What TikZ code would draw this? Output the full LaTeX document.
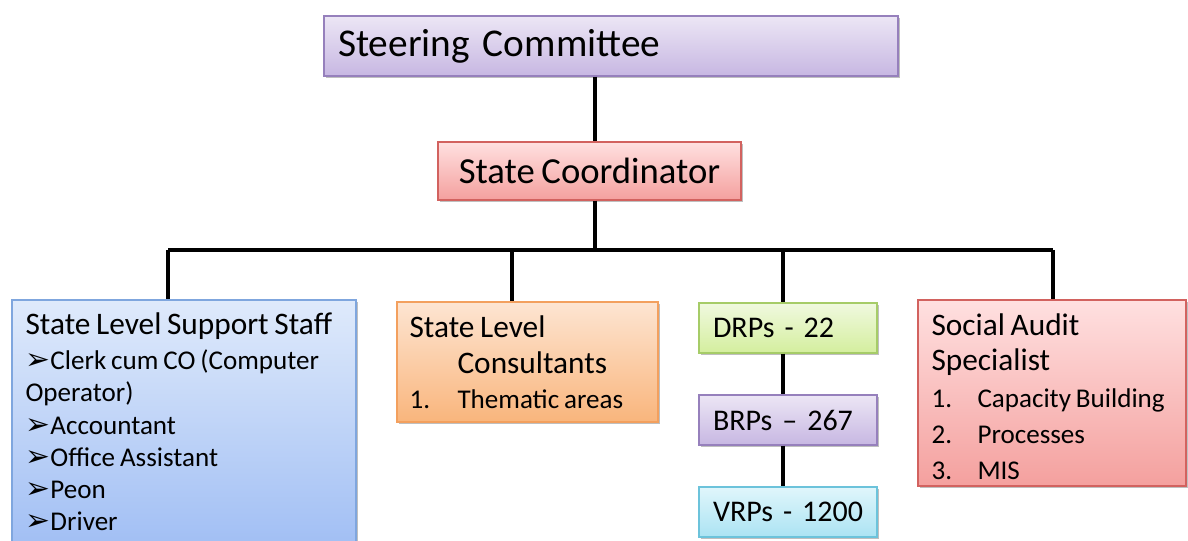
\documentclass[tikz,border=0pt]{standalone}
\usepackage{fontspec}
\setmainfont{Carlito}[WordSpace=0.8]
\newfontfamily\dingfont{DejaVu Sans}
\usetikzlibrary{calc, shadows}

\definecolor{purpleline}{HTML}{9680BC}
\definecolor{purpletop}{HTML}{ECE6F5}
\definecolor{purplebot}{HTML}{C7B7E2}
\definecolor{redline}{HTML}{D2625F}
\definecolor{redtop}{HTML}{FFE0E0}
\definecolor{redbot}{HTML}{F4A09E}
\definecolor{blueline}{HTML}{7FA6DE}
\definecolor{bluetop}{HTML}{DFEAFB}
\definecolor{bluebot}{HTML}{A0BEF4}
\definecolor{orangeline}{HTML}{F3A05E}
\definecolor{orangetop}{HTML}{FDE5D2}
\definecolor{orangebot}{HTML}{F9B57C}
\definecolor{greenline}{HTML}{A6CC68}
\definecolor{greentop}{HTML}{F0F9DF}
\definecolor{greenbot}{HTML}{D4EE9E}
\definecolor{cyanline}{HTML}{6CC3DB}
\definecolor{cyantop}{HTML}{E0F6FB}
\definecolor{cyanbot}{HTML}{ABE3F3}

\newcommand*\pointer{\scalebox{1.1}{\dingfont\char"27A2}}
\newcommand*\bigtext{\fontsize{29.5}{34}\selectfont}
\newcommand*\midtext{\fontsize{27.5}{32}\selectfont}
\newcommand*\smalltext{\fontsize{22.5}{24.75}\selectfont}
\newcommand*\headtext{\fontsize{23.5}{26}\selectfont}
\newcommand*\itemtext{\fontsize{20.3}{24.1}\selectfont}

\tikzset{
  box/.style={draw, line width=1.1pt, inner xsep=10.5pt, inner ysep=0pt,
    drop shadow={shadow xshift=1.2pt, shadow yshift=-1.6pt, opacity=0.25, fill=black}},
  purplebox/.style={box, draw=purpleline, top color=purpletop, bottom color=purplebot},
  redbox/.style={box, draw=redline, top color=redtop, bottom color=redbot},
  bluebox/.style={box, draw=blueline, top color=bluetop, bottom color=bluebot},
  orangebox/.style={box, draw=orangeline, top color=orangetop, bottom color=orangebot},
  greenbox/.style={box, draw=greenline, top color=greentop, bottom color=greenbot},
  cyanbox/.style={box, draw=cyanline, top color=cyantop, bottom color=cyanbot},
  small/.style={minimum width=133.5pt, minimum height=37.5pt, text width=112.5pt,
    align=left, font=\smalltext},
  txt/.style={inner sep=0pt, align=left, anchor=north west},
  link/.style={line width=2.8pt}
}

\begin{document}
\begin{tikzpicture}[x=0.75pt, y=-0.75pt]
        \useasboundingbox (0,0) rectangle (1188,541);
        \coordinate (hub) at (595,250);
        \coordinate (barL) at (168,250);
        \coordinate (barR) at (1053,250);
        \coordinate (dropB) at (512,250);
        \coordinate (dropC) at (783,250);

        % boxes
        \node[purplebox, minimum width=430.5pt, minimum height=45pt, text width=409.5pt,
          align=left, font=\bigtext] (steer) at (611,46) {Steering Committee};
        \node[redbox, minimum width=227.25pt, minimum height=43.5pt, align=center,
          font=\midtext] (coord) at (589.5,171) {State Coordinator};
        \node[bluebox, minimum width=258pt, minimum height=187.5pt] (staff) at (184,425) {};
        \node[orangebox, minimum width=195.75pt, minimum height=90pt] (consult) at (527.5,362) {};
        \node[greenbox, small] (drp) at (788,328) {\mbox{DRPs - 22}};
        \node[purplebox, small] (brp) at (788,420) {\mbox{BRPs -- 267}};
        \node[cyanbox, small] (vrp) at (788,512) {\mbox{VRPs - 1200}};
        \node[redbox, minimum width=201pt, minimum height=139.5pt] (social) at (1052,393) {};

        % box texts
        \node[txt, font=\itemtext] (stafftext) at ($(staff.north west)+(14,13)$)
          {{\headtext State Level Support Staff}\\[2.5pt]
           \pointer Clerk cum CO (Computer\\
           Operator)\\
           \pointer Accountant\\
           \pointer Office Assistant\\
           \pointer Peon\\
           \pointer Driver};
        \node[txt, font=\headtext] (consulttext) at ($(consult.north west)+(13,14)$)
          {State Level\\[1.5pt]
           \hspace*{36pt}Consultants\\
           {\itemtext\makebox[36pt][l]{1.}Thematic areas}};
        \node[txt, font=\headtext] (socialtext) at ($(social.north west)+(14,14)$)
          {Social Audit\\[0.5pt]
           Specialist\\[1.5pt]
           {\itemtext\makebox[34.5pt][l]{1.}Capacity Building}\\[1pt]
           {\itemtext\makebox[34.5pt][l]{2.}Processes}\\[1pt]
           {\itemtext\makebox[34.5pt][l]{3.}MIS}};

        % connectors
        \draw[link] (steer.south -| hub) -- (coord.north -| hub);
        \draw[link] (coord.south -| hub) -- (hub);
        \draw[link] (barL) -- (barR);
        \draw[link] (barL) -- (staff.north -| barL);
        \draw[link] (dropB) -- (consult.north -| dropB);
        \draw[link] (dropC) -- (drp.north -| dropC);
        \draw[link] (barR) -- (social.north -| barR);
        \draw[link] (drp.south -| dropC) -- (brp.north -| dropC);
        \draw[link] (brp.south -| dropC) -- (vrp.north -| dropC);
    \end{tikzpicture}
\end{document}
